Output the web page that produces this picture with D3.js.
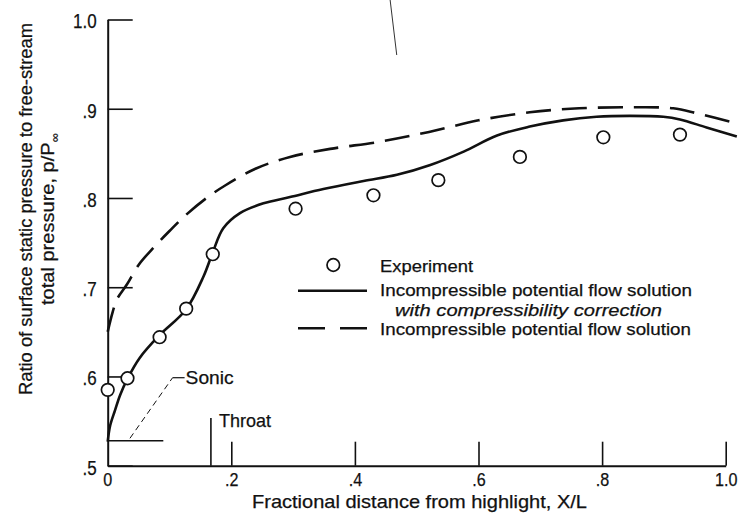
<!DOCTYPE html>
<html>
<head>
<meta charset="utf-8">
<script src="https://cdn.jsdelivr.net/npm/d3@7"></script>
<style>
  html, body { margin: 0; padding: 0; background: #fff; }
  svg { display: block; }
  text { font-family: "Liberation Sans", Arial, sans-serif; fill: #111; stroke: #111; stroke-width: 0.25px; }
</style>
</head>
<body>
<svg id="chart" width="744" height="515"></svg>
<script>
// Experiment: surface static pressure ratio p/P∞ vs fractional distance X/L
const expX = [0, 0.032, 0.084, 0.127, 0.170, 0.304, 0.430, 0.535, 0.667, 0.802, 0.926];
const expP = [0.585, 0.598, 0.644, 0.676, 0.737, 0.788, 0.803, 0.820, 0.846, 0.868, 0.871];

// Incompressible potential flow solution with compressibility correction (solid)
const corrX = [0, 0.004, 0.0118, 0.02, 0.0317, 0.052, 0.0835, 0.1267, 0.155, 0.170, 0.187, 0.214, 0.252, 0.295, 0.349, 0.414, 0.468, 0.522, 0.576, 0.630, 0.683, 0.737, 0.791, 0.845, 0.899, 0.926, 0.969, 1.018];
const corrP = [0.527, 0.545, 0.562, 0.579, 0.597, 0.621, 0.646, 0.675, 0.712, 0.739, 0.766, 0.783, 0.794, 0.801, 0.810, 0.819, 0.826, 0.837, 0.852, 0.870, 0.880, 0.887, 0.891, 0.892, 0.891, 0.888, 0.879, 0.869];

// Incompressible potential flow solution (dashed)
const incX = [0, 0.008, 0.0146, 0.031, 0.05, 0.075, 0.10, 0.125, 0.16, 0.19, 0.24, 0.295, 0.36, 0.44, 0.52, 0.60, 0.683, 0.763, 0.845, 0.915, 0.953, 1.02];
const incP = [0.650, 0.672, 0.686, 0.703, 0.725, 0.745, 0.763, 0.780, 0.800, 0.814, 0.833, 0.846, 0.855, 0.863, 0.874, 0.887, 0.896, 0.9005, 0.9016, 0.9005, 0.895, 0.883];

// Axis ticks and labels
const xTicks = [0, 0.2, 0.4, 0.6, 0.8, 1.0];
const xTickLabels = ["0", ".2", ".4", ".6", ".8", "1.0"];
const yTicks = [0.5, 0.6, 0.7, 0.8, 0.9, 1.0];
const yTickLabels = [".5", ".6", ".7", ".8", ".9", "1.0"];

// Reference markers
const sonicP = 0.528;          // sonic pressure ratio
const sonicLineEndX = 0.09;
const sonicLeader = [[0.036, 0.5307], [0.105, 0.5986]];
const throatX = 0.167;
const throatTopP = 0.5535;
const strayLine = [[0.457, 1.0219], [0.4677, 0.9602]];

const svg = d3.select("#chart");
const x = d3.scaleLinear().domain([0, 1]).range([107.7, 725.7]);
const y = d3.scaleLinear().domain([0.5, 1.0]).range([465.7, 19.5]);

// narrow a text element to a fraction of its natural width
function condense(sel, f) {
  sel.each(function () {
    const w = this.getComputedTextLength();
    d3.select(this).attr("textLength", w * f).attr("lengthAdjust", "spacingAndGlyphs");
  });
}

// X axis with inward ticks
const xAxis = d3.axisBottom(x)
  .tickValues(xTicks.slice(1))
  .tickFormat((d, i) => xTickLabels[i + 1])
  .tickSizeInner(-24).tickSizeOuter(0).tickPadding(7);
const gx = svg.append("g").attr("transform", `translate(0,${y(0.5)})`).call(xAxis)
  .attr("font-family", null).attr("font-size", null);
gx.select(".domain").attr("stroke", "#111").attr("stroke-width", 2);
gx.selectAll(".tick line").attr("stroke", "#111").attr("stroke-width", 1.6);
gx.selectAll(".tick text").style("font-size", "19px");
gx.append("text").attr("x", x(0)).attr("y", 7).attr("dy", "0.71em")
  .attr("text-anchor", "middle").style("font-size", "19px").text(xTickLabels[0]);
condense(gx.selectAll("text"), 0.85);

// Y axis with inward ticks
const yAxis = d3.axisLeft(y)
  .tickValues(yTicks)
  .tickFormat((d, i) => yTickLabels[i])
  .tickSizeInner(-25).tickSizeOuter(0).tickPadding(11);
const gy = svg.append("g").attr("transform", `translate(${x(0)},0)`).call(yAxis)
  .attr("font-family", null).attr("font-size", null);
gy.select(".domain").attr("stroke", "#111").attr("stroke-width", 2);
gy.selectAll(".tick line").attr("stroke", "#111").attr("stroke-width", 1.6);
gy.selectAll(".tick text").style("font-size", "20px").attr("dy", "0.42em");
condense(gy.selectAll(".tick text"), 0.85);

// Axis titles
svg.append("text")
  .attr("x", 419.5).attr("y", 508)
  .attr("text-anchor", "middle")
  .attr("textLength", 335).attr("lengthAdjust", "spacingAndGlyphs")
  .style("font-size", "18.5px")
  .text("Fractional distance from highlight,  X/L");

const yt = svg.append("g");
yt.append("text")
  .attr("transform", "translate(32,209) rotate(-90)")
  .attr("text-anchor", "middle")
  .attr("textLength", 372).attr("lengthAdjust", "spacingAndGlyphs")
  .style("font-size", "18.5px")
  .text("Ratio of surface static pressure to free-stream");
const yt2 = yt.append("text")
  .attr("transform", "translate(54,219) rotate(-90)")
  .attr("text-anchor", "middle")
  .attr("textLength", 172).attr("lengthAdjust", "spacingAndGlyphs")
  .style("font-size", "18.5px");
yt2.append("tspan").text("total pressure,  p/P");
yt2.append("tspan").attr("dy", 5).style("font-size", "12px").text("∞");

// Reference lines: sonic level and throat station
svg.append("line")
  .attr("x1", x(0)).attr("x2", x(sonicLineEndX))
  .attr("y1", y(sonicP)).attr("y2", y(sonicP))
  .attr("stroke", "#111").attr("stroke-width", 1.6);
svg.append("line")
  .attr("x1", x(sonicLeader[0][0])).attr("y1", y(sonicLeader[0][1]))
  .attr("x2", x(sonicLeader[1][0])).attr("y2", y(sonicLeader[1][1]))
  .attr("stroke", "#111").attr("stroke-width", 1).attr("stroke-dasharray", "6,4");
svg.append("line")
  .attr("x1", x(sonicLeader[1][0])).attr("x2", x(sonicLeader[1][0]) + 12)
  .attr("y1", y(sonicLeader[1][1])).attr("y2", y(sonicLeader[1][1]))
  .attr("stroke", "#111").attr("stroke-width", 1.2);
svg.append("text")
  .attr("x", x(sonicLeader[1][0]) + 13).attr("y", y(sonicLeader[1][1]) + 6)
  .attr("textLength", 48).attr("lengthAdjust", "spacingAndGlyphs")
  .style("font-size", "18.5px").text("Sonic");

svg.append("line")
  .attr("x1", x(throatX)).attr("x2", x(throatX))
  .attr("y1", y(0.5)).attr("y2", y(throatTopP))
  .attr("stroke", "#111").attr("stroke-width", 1.6);
svg.append("text")
  .attr("x", x(throatX) + 8).attr("y", 426.5)
  .attr("textLength", 52).attr("lengthAdjust", "spacingAndGlyphs")
  .style("font-size", "18.5px").text("Throat");

svg.append("line")
  .attr("x1", x(strayLine[0][0])).attr("y1", y(strayLine[0][1]))
  .attr("x2", x(strayLine[1][0])).attr("y2", y(strayLine[1][1]))
  .attr("stroke", "#333").attr("stroke-width", 1);

// Curves
const line = d3.line().x(d => x(d[0])).y(d => y(d[1])).curve(d3.curveCatmullRom.alpha(0.5));
svg.append("path")
  .datum(d3.zip(incX, incP))
  .attr("d", line)
  .attr("fill", "none").attr("stroke", "#111").attr("stroke-width", 2.6)
  .attr("stroke-dasharray", "25,11");
svg.append("path")
  .datum(d3.zip(corrX, corrP))
  .attr("d", line)
  .attr("fill", "none").attr("stroke", "#111").attr("stroke-width", 2.6);

// Experiment symbols
svg.append("g").selectAll("circle")
  .data(d3.zip(expX, expP))
  .join("circle")
  .attr("cx", d => x(d[0])).attr("cy", d => y(d[1]))
  .attr("r", 6.3)
  .attr("fill", "#fff").attr("stroke", "#111").attr("stroke-width", 1.7);

// Legend
const lg = svg.append("g");
lg.append("circle").attr("cx", 333.3).attr("cy", 265).attr("r", 6.3)
  .attr("fill", "#fff").attr("stroke", "#111").attr("stroke-width", 1.7);
lg.append("text").attr("x", 380).attr("y", 271.5)
  .attr("textLength", 93).attr("lengthAdjust", "spacingAndGlyphs")
  .style("font-size", "17px").text("Experiment");
lg.append("line").attr("x1", 298).attr("x2", 367).attr("y1", 290.7).attr("y2", 290.7)
  .attr("stroke", "#111").attr("stroke-width", 2.4);
lg.append("text").attr("x", 380).attr("y", 296)
  .attr("textLength", 312).attr("lengthAdjust", "spacingAndGlyphs")
  .style("font-size", "17px").text("Incompressible potential flow solution");
lg.append("text").attr("x", 395).attr("y", 315.5)
  .attr("textLength", 267).attr("lengthAdjust", "spacingAndGlyphs")
  .style("font-size", "17px").style("font-style", "italic")
  .text("with compressibility correction");
lg.append("line").attr("x1", 298).attr("x2", 367).attr("y1", 328.3).attr("y2", 328.3)
  .attr("stroke", "#111").attr("stroke-width", 2.4).attr("stroke-dasharray", "27,15");
lg.append("text").attr("x", 380).attr("y", 335)
  .attr("textLength", 311).attr("lengthAdjust", "spacingAndGlyphs")
  .style("font-size", "17px").text("Incompressible potential flow solution");
</script>
</body>
</html>
